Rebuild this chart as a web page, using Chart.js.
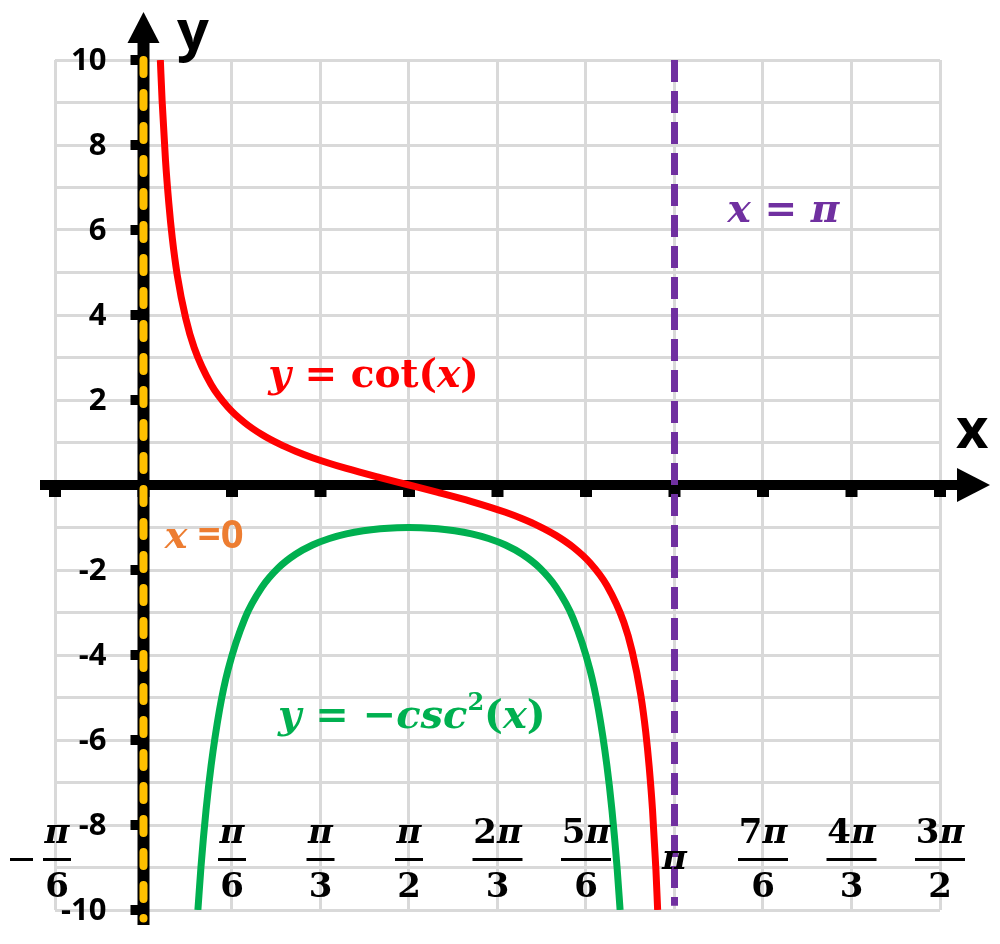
<!DOCTYPE html>
<html>
<head>
<meta charset="utf-8">
<script src="https://cdn.jsdelivr.net/npm/chart.js@4.4.1/dist/chart.umd.min.js"></script>
<style>
  html, body { margin: 0; padding: 0; background: #fff; }
  #wrap { width: 1000px; height: 944px; position: relative; }
</style>
</head>
<body>
<div id="wrap"><canvas id="grafico"></canvas></div>
<script>
// Valores (x en radianes)
const cotX = [0.0997, 0.11, 0.13, 0.15, 0.17, 0.2, 0.25, 0.3, 0.4, 0.5, 0.6, 0.7, 0.8, 0.9, 1.0, 1.2, 1.4, 1.5708,
  1.7416, 1.9416, 2.1416, 2.2416, 2.3416, 2.4416, 2.5416, 2.6416, 2.7416, 2.8416, 2.8916, 2.9416, 2.9716, 2.9916, 3.0116, 3.0316, 3.0419];
const cotY = [10, 9.05, 7.65, 6.62, 5.82, 4.93, 3.92, 3.23, 2.365, 1.83, 1.462, 1.187, 0.971, 0.794, 0.642, 0.389, 0.1725, 0,
  -0.1725, -0.389, -0.642, -0.794, -0.971, -1.187, -1.462, -1.83, -2.365, -3.23, -3.92, -4.93, -5.82, -6.62, -7.65, -9.05, -10];

const cscX = [0.3218, 0.34, 0.37, 0.4, 0.45, 0.5, 0.6, 0.7, 0.8, 0.9, 1.0, 1.1, 1.2, 1.3, 1.4, 1.5, 1.5708,
  1.6416, 1.7416, 1.8416, 1.9416, 2.0416, 2.1416, 2.2416, 2.3416, 2.4416, 2.5416, 2.6416, 2.6916, 2.7416, 2.7716, 2.8016, 2.8198];
const cscY = [-10, -8.99, -7.65, -6.6, -5.285, -4.35, -3.137, -2.41, -1.943, -1.63, -1.412, -1.259, -1.151, -1.077, -1.03, -1.005, -1,
  -1.005, -1.03, -1.077, -1.151, -1.259, -1.412, -1.63, -1.943, -2.41, -3.137, -4.35, -5.285, -6.6, -7.65, -8.99, -10];

// Asintotas verticales
const piLineX = [Math.PI, Math.PI];
const piLineY = [10, -9.9];
const zeroLineX = [0, 0];
const zeroLineY = [10, -10.2];

// Marcas del eje x en multiplos de pi/6
const gridSteps = [-1, 0, 1, 2, 3, 4, 5, 6, 7, 8, 9];
const xLabelSteps = [-1, 1, 2, 3, 4, 5, 6, 7, 8, 9];
const xLabelNum = ['π', 'π', 'π', 'π', '2π', '5π', 'π', '7π', '4π', '3π'];
const xLabelDen = ['6', '6', '3', '2', '3', '6', '', '6', '3', '2'];
const yLabelValues = [10, 8, 6, 4, 2, -2, -4, -6, -8, -10];

const PI6 = Math.PI / 6;
const toPoints = (xs, ys) => xs.map((v, i) => ({ x: v, y: ys[i] }));

const serif = (s, it) => (it ? 'italic ' : '') + 'bold ' + s + 'px "DejaVu Serif"';
const sans = s => 'bold ' + s + 'px "Open Sans"';

function drawRuns(ctx, runs, x, y, color) {
  ctx.fillStyle = color;
  ctx.textAlign = 'left';
  ctx.textBaseline = 'alphabetic';
  runs.forEach(r => {
    ctx.font = r.font;
    ctx.fillText(r.t, x, y + (r.dy || 0));
    x += ctx.measureText(r.t).width;
  });
}

const axesPlugin = {
  id: 'ejes',
  beforeDatasetsDraw(chart) {
    const { ctx, scales: { x, y } } = chart;
    const x0 = x.getPixelForValue(0);
    const y0 = y.getPixelForValue(0);
    ctx.save();
    ctx.fillStyle = '#000';
    // eje x con flecha
    ctx.fillRect(40, y0 - 5, 920, 10);
    ctx.beginPath();
    ctx.moveTo(990, y0);
    ctx.lineTo(957, y0 - 17);
    ctx.lineTo(957, y0 + 17);
    ctx.closePath();
    ctx.fill();
    // eje y con flecha
    ctx.fillRect(x0 - 6, 40, 12, 885);
    ctx.beginPath();
    ctx.moveTo(x0, 12);
    ctx.lineTo(x0 - 16, 43);
    ctx.lineTo(x0 + 16, 43);
    ctx.closePath();
    ctx.fill();
    // marcas
    gridSteps.forEach(k => {
      const px = x.getPixelForValue(k * PI6);
      ctx.fillRect(px - 6, y0, 12, 12);
    });
    yLabelValues.forEach(v => {
      const py = y.getPixelForValue(v);
      ctx.fillRect(x0 - 13, py - 5, 10, 10);
    });
    ctx.restore();
  },
  afterDatasetsDraw(chart) {
    const { ctx, scales: { x, y } } = chart;
    const x0 = x.getPixelForValue(0);
    const px = k => x.getPixelForValue(k * PI6);
    const py = v => y.getPixelForValue(v);
    ctx.save();

    // etiquetas del eje y
    ctx.fillStyle = '#000';
    ctx.font = sans(31);
    ctx.textAlign = 'right';
    ctx.textBaseline = 'middle';
    yLabelValues.forEach(v => ctx.fillText(String(v), x0 - 37, py(v) + 1));

    // etiquetas del eje x (fracciones)
    xLabelSteps.forEach((k, i) => {
      let cx = px(k);
      if (k === -1) cx += 2;
      ctx.fillStyle = '#000';
      ctx.textBaseline = 'alphabetic';
      ctx.textAlign = 'center';
      if (xLabelDen[i] === '') {
        ctx.font = serif(34, true);
        ctx.fillText(xLabelNum[i], cx, 869);
        return;
      }
      const num = xLabelNum[i];
      const digit = num.length > 1 ? num[0] : '';
      ctx.font = serif(34, false);
      const dw = ctx.measureText(digit).width;
      ctx.font = serif(34, true);
      const pw = ctx.measureText('π').width;
      const startX = cx - (dw + pw) / 2;
      ctx.textAlign = 'left';
      ctx.font = serif(34, false);
      ctx.fillText(digit, startX, 843);
      ctx.font = serif(34, true);
      ctx.fillText('π', startX + dw, 843);
      const barW = digit ? 50 : 28;
      ctx.fillRect(cx - barW / 2, 858, barW, 3);
      ctx.textAlign = 'center';
      ctx.font = serif(34, false);
      ctx.fillText(xLabelDen[i], cx, 897);
      if (k === -1) ctx.fillRect(cx - 47, 858, 23, 3);
    });

    // titulos de ejes
    ctx.fillStyle = '#000';
    ctx.textAlign = 'left';
    ctx.textBaseline = 'alphabetic';
    ctx.font = sans(56);
    ctx.fillText('y', 177, 50);
    ctx.fillText('x', 956, 448);

    // rotulos de las curvas
    drawRuns(ctx, [
      { t: 'y', font: serif(39, true) }, { t: ' = ', font: serif(39) },
      { t: 'cot', font: serif(39) }, { t: '(', font: serif(39) },
      { t: 'x', font: serif(39, true) }, { t: ')', font: serif(39) }
    ], px(1.41), py(2.31), '#FF0000');

    drawRuns(ctx, [
      { t: 'x', font: serif(39, true) }, { t: ' = ', font: serif(39) },
      { t: 'π', font: serif(39, true) }
    ], px(6.6), py(6.19), '#7030A0');

    drawRuns(ctx, [
      { t: 'x', font: serif(38, true) }, { t: ' =0', font: sans(40) }
    ], px(0.24), py(-1.48), '#ED7D31');

    drawRuns(ctx, [
      { t: 'y', font: serif(40, true) }, { t: ' = −', font: serif(40) },
      { t: 'csc', font: serif(40, true) }, { t: '2', font: serif(24), dy: -18 },
      { t: '(', font: serif(40) }, { t: 'x', font: serif(40, true) }, { t: ')', font: serif(40) }
    ], px(1.52), py(-5.72), '#00B050');

    ctx.restore();
  }
};

const config = {
  type: 'line',
  data: {
    datasets: [
      {
        label: 'y = cot(x)',
        data: toPoints(cotX, cotY),
        borderColor: '#FF0000',
        borderWidth: 7,
        pointRadius: 0,
        cubicInterpolationMode: 'monotone'
      },
      {
        label: 'y = -csc^2(x)',
        data: toPoints(cscX, cscY),
        borderColor: '#00B050',
        borderWidth: 7,
        pointRadius: 0,
        cubicInterpolationMode: 'monotone'
      },
      {
        label: 'x = pi',
        data: toPoints(piLineX, piLineY),
        borderColor: '#7030A0',
        borderWidth: 7,
        borderDash: [22, 9],
        pointRadius: 0
      },
      {
        label: 'x = 0',
        data: toPoints(zeroLineX, zeroLineY),
        borderColor: '#FFC000',
        borderWidth: 8,
        borderDash: [14, 19],
        borderCapStyle: 'round',
        pointRadius: 0,
        clip: false
      }
    ]
  },
  options: {
    responsive: true,
    maintainAspectRatio: false,
    animation: false,
    events: [],
    layout: { padding: { left: 55, right: 60, top: 60, bottom: 34 } },
    plugins: { legend: { display: false }, tooltip: { enabled: false } },
    scales: {
      x: {
        type: 'linear',
        min: -PI6,
        max: 9 * PI6,
        afterBuildTicks: scale => { scale.ticks = gridSteps.map(k => ({ value: k * PI6 })); },
        ticks: { display: false },
        grid: { color: '#D9D9D9', lineWidth: 3, drawTicks: false },
        border: { display: false }
      },
      y: {
        type: 'linear',
        min: -10,
        max: 10,
        ticks: { display: false, stepSize: 1 },
        grid: { color: '#D9D9D9', lineWidth: 3, drawTicks: false },
        border: { display: false }
      }
    }
  },
  plugins: [axesPlugin]
};

const grafico = new Chart(document.getElementById('grafico'), config);
</script>
</body>
</html>
